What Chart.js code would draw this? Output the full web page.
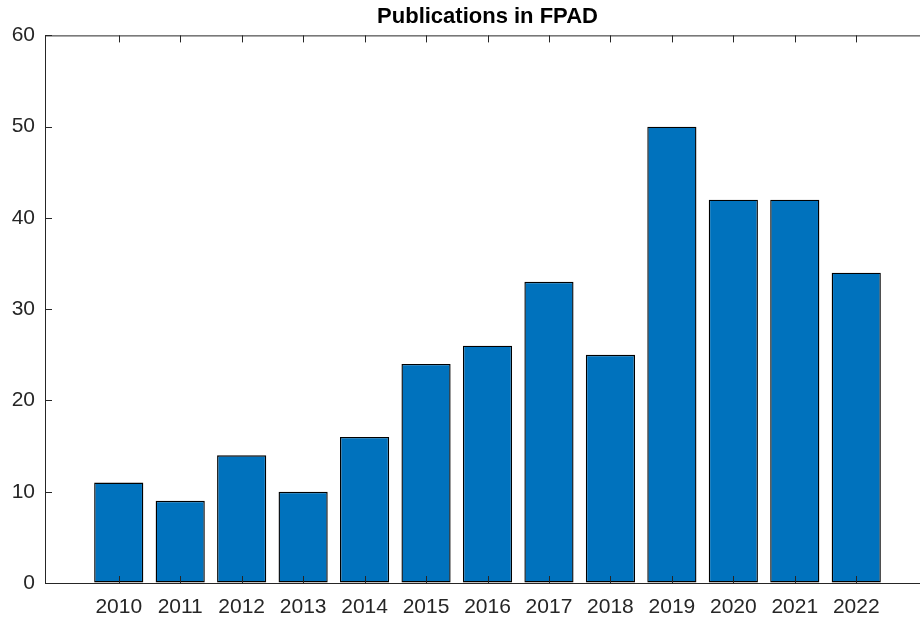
<!DOCTYPE html>
<html>
<head>
<meta charset="utf-8">
<title>Publications in FPAD</title>
<script src="https://cdn.jsdelivr.net/npm/chart.js@4/dist/chart.umd.min.js"></script>
<style>
  html, body { margin: 0; padding: 0; background: #fff; overflow: hidden; }
  #wrap { width: 940px; height: 620px; }
</style>
</head>
<body>
<div id="wrap"><canvas id="chart"></canvas></div>
<script>
// data
var years = [2010, 2011, 2012, 2013, 2014, 2015, 2016, 2017, 2018, 2019, 2020, 2021, 2022];
var publications = [11, 9, 14, 10, 16, 24, 26, 33, 25, 50, 42, 42, 34];
var yTicks = [0, 10, 20, 30, 40, 50, 60];

var axisColor = '#262626';
var fontFamily = '"Liberation Sans", Arial, Helvetica, sans-serif';

// box top line + inward tick marks, matlab style
var matlabAxes = {
    id: 'matlabAxes',
    afterDraw: function(chart) {
        var ctx = chart.ctx, area = chart.chartArea;
        var xs = chart.scales.x, ys = chart.scales.y;
        var len = 7;
        ctx.save();
        ctx.strokeStyle = axisColor;
        ctx.lineWidth = 1;
        ctx.beginPath();
        ctx.moveTo(area.left, area.top + 0.5);
        ctx.lineTo(area.right, area.top + 0.5);
        years.forEach(function(v) {
            var px = Math.round(xs.getPixelForValue(v)) + 0.5;
            ctx.moveTo(px, area.bottom);
            ctx.lineTo(px, area.bottom - len);
            ctx.moveTo(px, area.top);
            ctx.lineTo(px, area.top + len);
        });
        yTicks.forEach(function(v) {
            var py = Math.round(ys.getPixelForValue(v)) + 0.5;
            ctx.moveTo(area.left, py);
            ctx.lineTo(area.left + len, py);
        });
        ctx.stroke();
        ctx.restore();
    }
};

new Chart(document.getElementById('chart'), {
    type: 'bar',
    data: {
        datasets: [{
            data: years.map(function(y, i) { return { x: y, y: publications[i] }; }),
            backgroundColor: '#0072BD',
            borderColor: '#000000',
            borderWidth: 1.4,
            borderSkipped: false,
            inflateAmount: 0,
            barPercentage: 0.8,
            categoryPercentage: 1
        }]
    },
    options: {
        responsive: true,
        maintainAspectRatio: false,
        animation: false,
        layout: { padding: { left: 0, right: 10, top: 0, bottom: 0 } },
        plugins: {
            legend: { display: false },
            tooltip: { enabled: false },
            title: {
                display: true,
                fullSize: false,
                text: 'Publications in FPAD',
                color: '#000',
                font: { family: fontFamily, size: 22, weight: 'bold', lineHeight: 1.2 },
                padding: { top: 4, bottom: 5 }
            }
        },
        scales: {
            x: {
                type: 'linear',
                offset: false,
                min: 2008.8,
                max: 2023.2,
                afterBuildTicks: function(scale) {
                    scale.ticks = years.map(function(v) { return { value: v }; });
                },
                afterFit: function(scale) { scale.height = 37; },
                ticks: {
                    autoSkip: false,
                    maxRotation: 0,
                    padding: 12,
                    color: axisColor,
                    font: { family: fontFamily, size: 21 },
                    callback: function(v) { return String(v); }
                },
                grid: { display: true, drawOnChartArea: false, drawTicks: false, offset: false },
                border: { display: true, color: axisColor, width: 1 }
            },
            y: {
                min: 0,
                max: 60,
                afterBuildTicks: function(scale) {
                    scale.ticks = yTicks.map(function(v) { return { value: v }; });
                },
                afterFit: function(scale) { scale.width = 45; },
                ticks: {
                    padding: 10,
                    color: axisColor,
                    font: { family: fontFamily, size: 21 }
                },
                grid: { display: true, drawOnChartArea: false, drawTicks: false },
                border: { display: true, color: axisColor, width: 1 }
            }
        }
    },
    plugins: [matlabAxes]
});
</script>
</body>
</html>
